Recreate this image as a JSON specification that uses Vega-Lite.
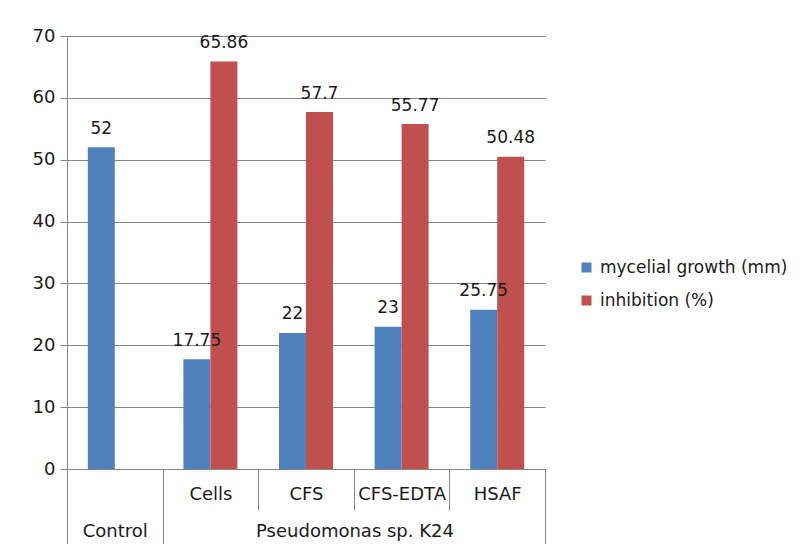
{
  "$schema": "https://vega.github.io/schema/vega-lite/v6.json",
  "autosize": "none",
  "width": 478,
  "height": 433,
  "padding": {"left": 67, "top": 36, "right": 264, "bottom": 75},
  "background": "white",
  "config": {
    "font": "DejaVu Sans",
    "view": {"stroke": null},
    "axis": {"labelFont": "DejaVu Sans", "labelFontSize": 18, "labelColor": "#1a1a1a", "titleFont": "DejaVu Sans"},
    "legend": {"labelFont": "DejaVu Sans"}
  },
  "data": {
    "values": [
      {"treatment": "Control", "series": "mycelial growth (mm)", "value": 52},
      {"treatment": "Cells", "series": "mycelial growth (mm)", "value": 17.75},
      {"treatment": "Cells", "series": "inhibition (%)", "value": 65.86},
      {"treatment": "CFS", "series": "mycelial growth (mm)", "value": 22},
      {"treatment": "CFS", "series": "inhibition (%)", "value": 57.7},
      {"treatment": "CFS-EDTA", "series": "mycelial growth (mm)", "value": 23},
      {"treatment": "CFS-EDTA", "series": "inhibition (%)", "value": 55.77},
      {"treatment": "HSAF", "series": "mycelial growth (mm)", "value": 25.75},
      {"treatment": "HSAF", "series": "inhibition (%)", "value": 50.48}
    ]
  },
  "encoding": {
    "x": {
      "field": "treatment",
      "type": "nominal",
      "sort": ["Control", "Cells", "CFS", "CFS-EDTA", "HSAF"],
      "scale": {"paddingInner": 0, "paddingOuter": 0},
      "axis": {
        "title": "Pseudomonas sp. K24",
        "titleFontSize": 18,
        "titleFontWeight": "normal",
        "titleColor": "#1a1a1a",
        "titleX": 287.5,
        "titleY": 62,
        "titleAlign": "center",
        "titleBaseline": "middle",
        "titleAnchor": null,
        "labelAngle": 0,
        "labelBaseline": "middle",
        "labelPadding": {"condition": {"test": "datum.value == 'Control' || datum.value == 'HSAF'", "value": -50}, "value": -16},
        "labelLineHeight": 37,
        "labelExpr": "datum.value == 'Control' ? ['', 'Control'] : datum.value",
        "tickBand": "extent",
        "tickColor": "#868686",
        "tickSize": {"condition": {"test": "datum.value == 'Control' || datum.value == 'HSAF' || datum.index < 0", "value": 75}, "value": 41},
        "domainColor": "#868686",
        "grid": false
      }
    },
    "xOffset": {
      "field": "series",
      "type": "nominal",
      "scale": {"domain": ["mycelial growth (mm)", "inhibition (%)"], "paddingInner": 0, "paddingOuter": 0.77}
    },
    "y": {
      "field": "value",
      "type": "quantitative",
      "scale": {"domain": [0, 70], "nice": false},
      "axis": {
        "title": null,
        "values": [0, 10, 20, 30, 40, 50, 60, 70],
        "tickSize": 7,
        "tickColor": "#868686",
        "domainColor": "#868686",
        "gridColor": "#868686",
        "labelPadding": 5
      }
    }
  },
  "layer": [
    {
      "mark": {"type": "bar"},
      "encoding": {
        "color": {
          "field": "series",
          "type": "nominal",
          "scale": {"domain": ["mycelial growth (mm)", "inhibition (%)"], "range": ["#4F81BD", "#C0504D"]},
          "legend": {
            "title": null,
            "orient": "none",
            "legendX": 511,
            "legendY": 223,
            "symbolType": "square",
            "symbolSize": 100,
            "symbolStrokeWidth": 0,
            "labelFontSize": 17,
            "labelColor": "#1a1a1a",
            "labelOffset": 5,
            "labelLimit": 400,
            "rowPadding": 15
          }
        }
      }
    },
    {
      "mark": {"type": "text", "baseline": "bottom", "dy": -9.5, "fontSize": 17, "color": "#1a1a1a", "font": "DejaVu Sans"},
      "encoding": {"text": {"field": "value", "type": "quantitative"}}
    }
  ]
}
